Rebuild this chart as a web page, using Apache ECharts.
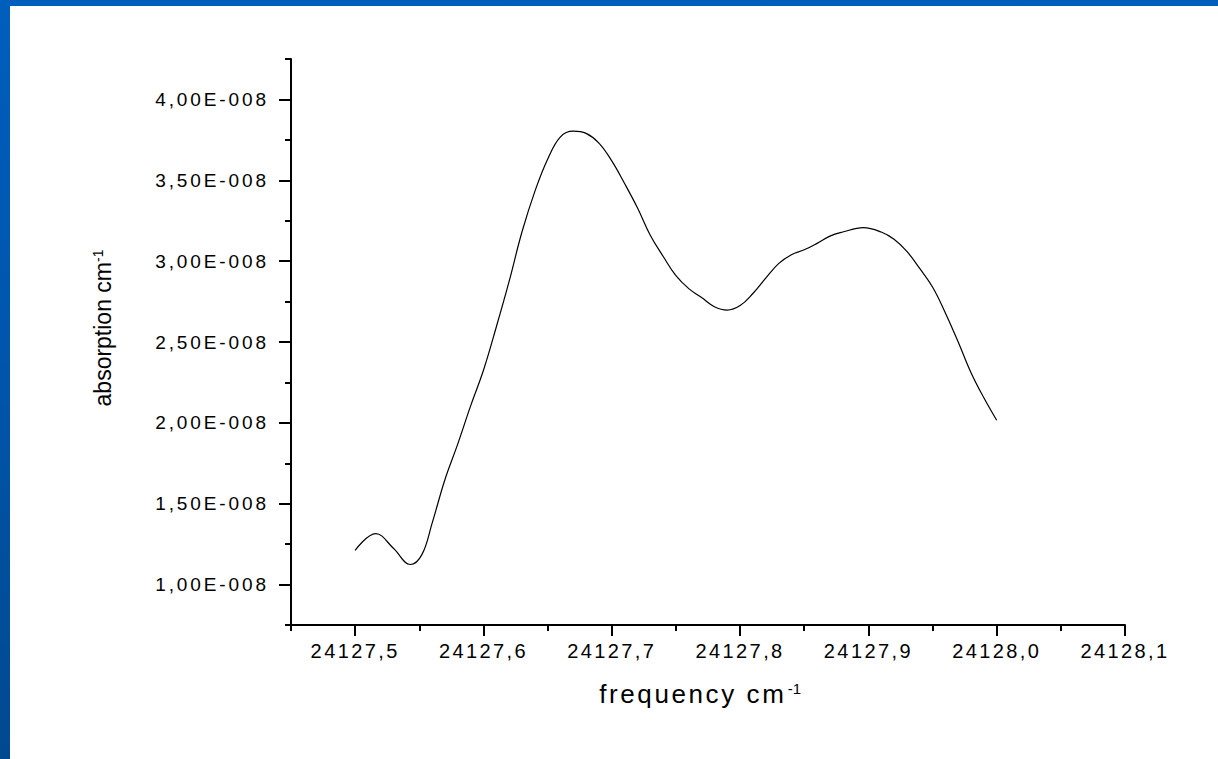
<!DOCTYPE html>
<html>
<head>
<meta charset="utf-8">
<script src="https://cdn.jsdelivr.net/npm/echarts@6/dist/echarts.min.js"></script>
<style>
html,body{margin:0;padding:0;width:1218px;height:759px;overflow:hidden;background:#fff;}
#frame{position:absolute;left:0;top:0;width:1218px;height:759px;background:linear-gradient(180deg,#005ebd 0%,#0056ad 45%,#00498f 100%);}
#paper{position:absolute;left:10px;top:6px;width:1208px;height:753px;background:#fff;}
#chart{position:absolute;left:0;top:0;width:1218px;height:759px;}
</style>
</head>
<body>
<div id="frame"></div>
<div id="paper"></div>
<div id="chart"></div>
<script>
// frequency (cm^-1)
const frequency = [24127.500, 24127.516, 24127.530, 24127.543, 24127.552, 24127.560, 24127.570, 24127.580,
  24127.590, 24127.600, 24127.610, 24127.620, 24127.630, 24127.640, 24127.650, 24127.660, 24127.670,
  24127.680, 24127.690, 24127.700, 24127.710, 24127.720, 24127.730, 24127.740, 24127.750, 24127.760,
  24127.770, 24127.780, 24127.790, 24127.800, 24127.810, 24127.820, 24127.830, 24127.840, 24127.850,
  24127.860, 24127.870, 24127.880, 24127.896, 24127.910, 24127.920, 24127.930, 24127.940, 24127.950,
  24127.960, 24127.970, 24127.980, 24127.990, 24128.000];
// absorption (cm^-1)
const absorption = [1.212e-8, 1.315e-8, 1.223e-8, 1.124e-8, 1.185e-8, 1.380e-8, 1.650e-8, 1.870e-8,
  2.105e-8, 2.325e-8, 2.593e-8, 2.875e-8, 3.180e-8, 3.430e-8, 3.630e-8, 3.769e-8, 3.804e-8,
  3.790e-8, 3.730e-8, 3.620e-8, 3.480e-8, 3.330e-8, 3.160e-8, 3.030e-8, 2.910e-8, 2.830e-8,
  2.775e-8, 2.718e-8, 2.697e-8, 2.725e-8, 2.800e-8, 2.895e-8, 2.985e-8, 3.040e-8, 3.070e-8,
  3.110e-8, 3.155e-8, 3.180e-8, 3.207e-8, 3.180e-8, 3.135e-8, 3.060e-8, 2.955e-8, 2.840e-8,
  2.680e-8, 2.500e-8, 2.310e-8, 2.155e-8, 2.016e-8];

const xMajorTicks = [24127.5, 24127.6, 24127.7, 24127.8, 24127.9, 24128.0, 24128.1];
const xMinorTicks = [24127.45, 24127.55, 24127.65, 24127.75, 24127.85, 24127.95, 24128.05];
const yMajorTicks = [1.0e-8, 1.5e-8, 2.0e-8, 2.5e-8, 3.0e-8, 3.5e-8, 4.0e-8];
const yMinorTicks = [0.75e-8, 1.25e-8, 1.75e-8, 2.25e-8, 2.75e-8, 3.25e-8, 3.75e-8, 4.25e-8];
const xRange = [24127.45, 24128.1];
const yRange = [0.75e-8, 4.25e-8];

const FONT = 'Liberation Sans';
const dom = document.getElementById('chart');
const chart = echarts.init(dom, null, {renderer: 'svg'});

const axisLineStyle = {color: '#000', width: 2};

chart.setOption({
  animation: false,
  backgroundColor: 'transparent',
  grid: {left: 291, top: 59, width: 834, height: 566, containLabel: false},
  xAxis: [{
    type: 'value', position: 'bottom', min: xRange[0], max: xRange[1],
    axisLine: {show: true, onZero: false, lineStyle: axisLineStyle},
    axisTick: {show: true, length: 11, customValues: xMajorTicks, lineStyle: axisLineStyle},
    axisLabel: {show: true, customValues: xMajorTicks, margin: 16, color: '#000', fontSize: 20, fontFamily: FONT,
      formatter: v => v.toFixed(1).replace('.', ',')},
    splitLine: {show: false},
    name: 'frequency cm{sup|-1}', nameLocation: 'middle', nameGap: 56,
    nameTextStyle: {color: '#000', fontSize: 26, fontFamily: FONT,
      rich: {sup: {fontSize: 15, fontFamily: FONT, color: '#000', verticalAlign: 'top', padding: [0, 0, 0, 17]}}}
  }, {
    type: 'value', position: 'bottom', min: xRange[0], max: xRange[1],
    axisLine: {show: false, onZero: false},
    axisTick: {show: true, length: 6, customValues: xMinorTicks, lineStyle: axisLineStyle},
    axisLabel: {show: false},
    splitLine: {show: false}
  }],
  yAxis: [{
    type: 'value', position: 'left', min: yRange[0], max: yRange[1],
    axisLine: {show: true, onZero: false, lineStyle: axisLineStyle},
    axisTick: {show: true, length: 12, customValues: yMajorTicks, lineStyle: axisLineStyle},
    axisLabel: {show: true, customValues: yMajorTicks, margin: 22, color: '#000', fontSize: 19, fontFamily: FONT,
      formatter: v => (v * 1e8).toFixed(2).replace('.', ',') + 'E-008'},
    splitLine: {show: false},
    name: 'absorption cm{sup|-1}', nameLocation: 'middle', nameRotate: 90, nameGap: 177,
    nameTextStyle: {color: '#000', fontSize: 23, fontFamily: FONT, padding: [0, 0, 0, 28],
      rich: {sup: {fontSize: 14, fontFamily: FONT, color: '#000', verticalAlign: 'top'}}}
  }, {
    type: 'value', position: 'left', min: yRange[0], max: yRange[1],
    axisLine: {show: false, onZero: false},
    axisTick: {show: true, length: 6, customValues: yMinorTicks, lineStyle: axisLineStyle},
    axisLabel: {show: false},
    splitLine: {show: false}
  }],
  series: [{
    type: 'line',
    xAxisIndex: 0, yAxisIndex: 0,
    data: frequency.map((f, i) => [f, absorption[i]]),
    showSymbol: false,
    smooth: 0.4,
    lineStyle: {color: '#000', width: 1.2},
    silent: true
  }]
});

function applySpacing() {
  dom.querySelectorAll('text').forEach(t => {
    const s = t.textContent.trim();
    if (/E-008$/.test(s)) t.style.letterSpacing = '2.9px';
    else if (/^2412\d,\d$/.test(s)) t.style.letterSpacing = '2.4px';
    else if (s === 'frequency cm') t.style.letterSpacing = '2.6px';
  });
}
chart.on('finished', applySpacing);
setTimeout(applySpacing, 50);
</script>
</body>
</html>
